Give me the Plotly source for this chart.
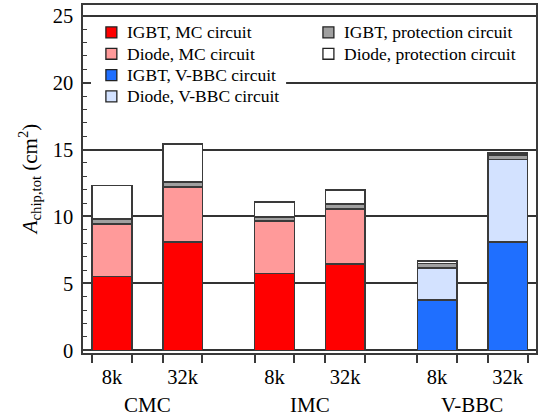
import plotly.graph_objects as go

# Chip area breakdown per converter and switching frequency
groups = ["CMC", "IMC", "V-BBC"]
freqs = ["8k", "32k", "8k", "32k", "8k", "32k"]
x_pos = [0, 1, 2.3, 3.3, 4.6, 5.6]
bar_w = 0.56

igbt_mc = [5.5, 8.1, 5.75, 6.45, None, None]
diode_mc = [3.95, 4.1, 3.9, 4.12, None, None]
igbt_vbbc = [None, None, None, None, 3.75, 8.08]
diode_vbbc = [None, None, None, None, 2.4, 6.17]
igbt_prot = [0.38, 0.38, 0.32, 0.35, 0.35, 0.35]
diode_prot = [2.5, 2.85, 1.1, 1.05, 0.17, 0.15]

FONT = "Liberation Serif, Times New Roman, serif"
EDGE = "#3a3a3a"

# (name, values, fill colour, legend column)
series = [
    ("IGBT, MC circuit", igbt_mc, "#ff0000", 0),
    ("Diode, MC circuit", diode_mc, "#ff9a9a", 0),
    ("IGBT, V-BBC circuit", igbt_vbbc, "#1f6fff", 0),
    ("Diode, V-BBC circuit", diode_vbbc, "#d3e2ff", 0),
    ("IGBT, protection circuit", igbt_prot, "#a0a0a0", 1),
    ("Diode, protection circuit", diode_prot, "#ffffff", 1),
]

W, H = 541, 417
ML, MR, MT, MB = 83, 3, 4, 64
PW, PH = W - ML - MR, H - MT - MB


def px_x(px):
    return (px - ML) / PW


def px_y(py):
    return (H - MB - py) / PH


fig = go.Figure()
for name, vals, color, _ in series:
    fig.add_trace(go.Bar(
        x=x_pos, y=vals, name=name, width=bar_w,
        marker=dict(color=color, line=dict(color=EDGE, width=1.5)),
        showlegend=False,
    ))

# invisible trace to anchor the secondary x axis (bar-edge ticks)
edges = []
for p in x_pos:
    edges += [p - bar_w / 2, p + bar_w / 2]
fig.add_trace(go.Scatter(x=[x_pos[0]], y=[0], xaxis="x2", mode="markers",
                         marker=dict(opacity=0), showlegend=False, hoverinfo="skip"))

x_range = [-0.41, 6.0]

fig.update_layout(
    width=W, height=H,
    margin=dict(l=ML, r=MR, t=MT, b=MB),
    barmode="stack",
    plot_bgcolor="white", paper_bgcolor="white",
    font=dict(family=FONT, color="black", size=20),
    xaxis=dict(
        range=x_range, tickvals=x_pos, ticktext=freqs, ticks="",
        showgrid=False, zeroline=False,
        showline=True, linecolor=EDGE, linewidth=1.5, mirror=True,
        ticklabelstandoff=5, tickfont=dict(size=20.5, family=FONT),
    ),
    xaxis2=dict(
        range=x_range, overlaying="x", side="bottom", anchor="y",
        tickvals=edges, showticklabels=False,
        ticks="outside", ticklen=9, tickwidth=1.5, tickcolor=EDGE,
        showgrid=False, zeroline=False, showline=False,
    ),
    yaxis=dict(
        range=[-0.2, 25.8], tickvals=[0, 5, 10, 15, 20, 25],
        ticks="inside", ticklen=7, tickwidth=1.5, tickcolor=EDGE,
        minor=dict(dtick=1, ticks="inside", ticklen=4, tickwidth=1.2,
                   tickcolor=EDGE, showgrid=False),
        showgrid=True, gridcolor="#333333", gridwidth=1.5,
        zeroline=False,
        showline=True, linecolor=EDGE, linewidth=1.5, mirror=True,
        ticklabelstandoff=4, tickfont=dict(size=20.5, family=FONT),
    ),
    showlegend=False,
)

# legend: white backing for the first column so the grid line stops behind it
fig.add_shape(type="rect", xref="paper", yref="paper", layer="above",
              x0=px_x(91), x1=px_x(287), y0=px_y(106), y1=px_y(20),
              fillcolor="white", line=dict(width=0))

col_sq_left = [106, 324]
col_text_left = [125, 343]
row_y0, row_step = 31.5, 21.4
rows = [0, 0]
for name, _, color, col in series:
    cy = row_y0 + rows[col] * row_step
    rows[col] += 1
    sx = col_sq_left[col]
    fig.add_shape(type="rect", xref="paper", yref="paper", layer="above",
                  x0=px_x(sx), x1=px_x(sx + 11), y0=px_y(cy + 5.5), y1=px_y(cy - 5.5),
                  fillcolor=color, line=dict(color="#222222", width=1.3))
    fig.add_annotation(x=px_x(col_text_left[col]), y=px_y(cy), xref="paper", yref="paper",
                       text=name, showarrow=False, xanchor="left", yanchor="middle",
                       font=dict(size=17.5, family=FONT))

# converter group labels under the frequency labels
group_centers = [(x_pos[0] + x_pos[1]) / 2, (x_pos[2] + x_pos[3]) / 2, (x_pos[4] + x_pos[5]) / 2]
for g, c in zip(groups, group_centers):
    fig.add_annotation(x=c, y=px_y(405), xref="x", yref="paper", text=g,
                       showarrow=False, yanchor="middle",
                       font=dict(size=21, family=FONT))

# y axis title
fig.add_annotation(
    x=px_x(29), y=0.5, xref="paper", yref="paper", textangle=-90,
    text="<i>A</i><sub>chip,tot</sub> (cm<sup>2</sup>)",
    showarrow=False, xanchor="center", yanchor="middle",
    font=dict(size=21, family=FONT),
)

fig.write_html("out.html")
